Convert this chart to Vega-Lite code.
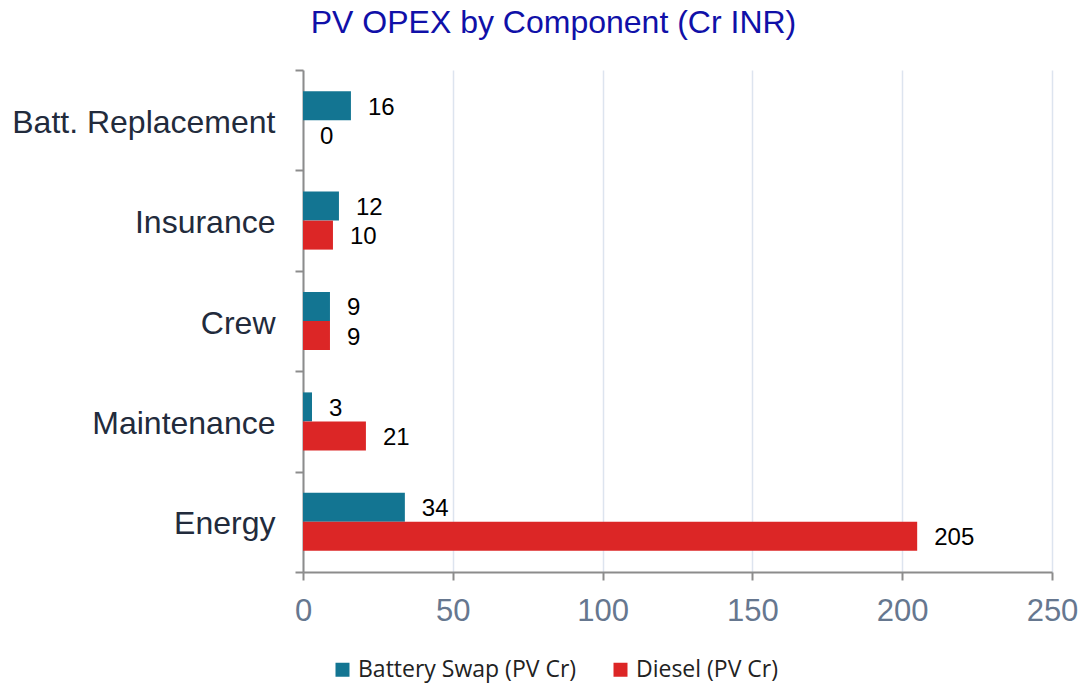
{
  "$schema": "https://vega.github.io/schema/vega-lite/v6.json",
  "autosize": {"type": "none"},
  "width": 749,
  "height": 502,
  "padding": {"left": 303, "top": 70, "right": 32, "bottom": 114},
  "background": "white",
  "title": {
    "text": "PV OPEX by Component (Cr INR)",
    "font": "Liberation Sans",
    "fontSize": 32,
    "fontWeight": "normal",
    "color": "#1010a8",
    "anchor": "middle",
    "dx": -124,
    "offset": 14
  },
  "data": {
    "values": [
      {"component": "Batt. Replacement", "series": "Battery Swap (PV Cr)", "value": 16},
      {"component": "Batt. Replacement", "series": "Diesel (PV Cr)", "value": 0},
      {"component": "Insurance", "series": "Battery Swap (PV Cr)", "value": 12},
      {"component": "Insurance", "series": "Diesel (PV Cr)", "value": 10},
      {"component": "Crew", "series": "Battery Swap (PV Cr)", "value": 9},
      {"component": "Crew", "series": "Diesel (PV Cr)", "value": 9},
      {"component": "Maintenance", "series": "Battery Swap (PV Cr)", "value": 3},
      {"component": "Maintenance", "series": "Diesel (PV Cr)", "value": 21},
      {"component": "Energy", "series": "Battery Swap (PV Cr)", "value": 34},
      {"component": "Energy", "series": "Diesel (PV Cr)", "value": 205}
    ]
  },
  "encoding": {
    "y": {
      "field": "component",
      "type": "nominal",
      "sort": ["Batt. Replacement", "Insurance", "Crew", "Maintenance", "Energy"],
      "scale": {"paddingInner": 0, "paddingOuter": 0},
      "axis": {
        "title": null,
        "grid": false,
        "domainColor": "#8c8c8c",
        "domainWidth": 2,
        "tickColor": "#8c8c8c",
        "tickWidth": 2,
        "tickSize": 8,
        "tickBand": "extent",
        "labelFont": "Liberation Sans",
        "labelFontSize": 32,
        "labelColor": "#222b3c",
        "labelPadding": 20,
        "labelOffset": 2,
        "labelLimit": 400
      }
    },
    "yOffset": {
      "field": "series",
      "type": "nominal",
      "sort": ["Battery Swap (PV Cr)", "Diesel (PV Cr)"],
      "scale": {"paddingInner": 0, "paddingOuter": 0.731}
    },
    "x": {
      "field": "value",
      "type": "quantitative",
      "scale": {"domain": [0, 250], "nice": false},
      "axis": {
        "title": null,
        "values": [0, 50, 100, 150, 200, 250],
        "grid": true,
        "gridColor": "#dde4ef",
        "gridWidth": 1.5,
        "domainColor": "#8c8c8c",
        "domainWidth": 2,
        "tickColor": "#8c8c8c",
        "tickWidth": 2,
        "tickSize": 8,
        "labelFont": "Liberation Sans",
        "labelFontSize": 31,
        "labelColor": "#66778f",
        "labelPadding": 16,
        "labelFlush": false
      }
    }
  },
  "layer": [
    {
      "mark": {"type": "bar"},
      "encoding": {
        "color": {
          "field": "series",
          "type": "nominal",
          "sort": ["Battery Swap (PV Cr)", "Diesel (PV Cr)"],
          "scale": {"domain": ["Battery Swap (PV Cr)", "Diesel (PV Cr)"], "range": ["#137592", "#dc2626"]},
          "legend": {
            "orient": "none",
            "legendX": 28,
            "legendY": 588,
            "direction": "horizontal",
            "title": null,
            "symbolType": "square",
            "symbolSize": 196,
            "symbolStrokeWidth": 0,
            "labelFont": "Open Sans",
            "labelFontSize": 23,
            "labelColor": "#222222",
            "labelLimit": 400,
            "columnPadding": 32,
            "labelOffset": 4,
            "padding": 0
          }
        }
      }
    },
    {
      "mark": {"type": "text", "align": "left", "baseline": "middle", "dx": 17, "dy": 2, "font": "Liberation Sans", "fontSize": 24, "color": "#000000"},
      "encoding": {
        "text": {"field": "value", "type": "quantitative"}
      }
    }
  ],
  "config": {"view": {"stroke": null}}
}
